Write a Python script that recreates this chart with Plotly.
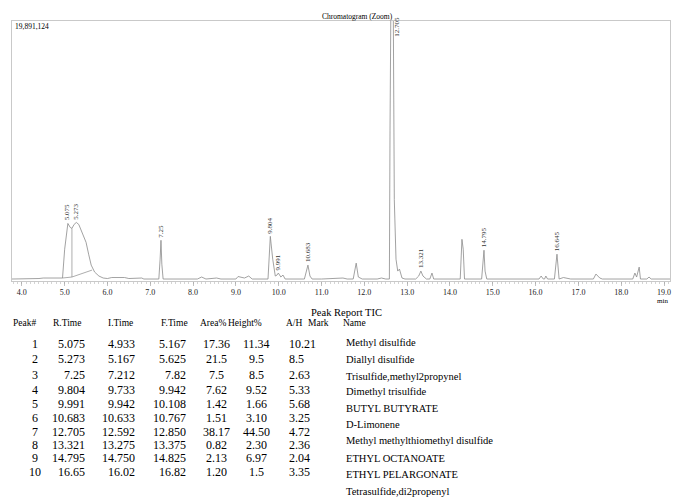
import plotly.graph_objects as go

# ---------------- data ----------------
MAX_COUNTS = 19891124
UNIT = MAX_COUNTS / 258.0   # counts per pixel of peak height

time_min = [3.77, 4.3, 4.4, 4.5, 4.9, 4.95, 5.0, 5.075, 5.13, 5.17, 5.22, 5.273, 5.33, 5.4, 5.5,
            5.56, 5.62, 5.7, 5.8, 5.9, 6.0, 6.1, 6.4, 6.5, 6.8, 6.85, 7.2, 7.23, 7.25, 7.27,
            7.3, 8.1, 8.2, 8.3, 8.55, 8.65, 9.0, 9.05, 9.15, 9.2, 9.3, 9.38, 9.75, 9.804,
            9.86, 9.92, 9.96, 9.991, 10.05, 10.1, 10.15, 10.6, 10.683, 10.73, 10.78, 11.0,
            11.5, 11.6, 11.74, 11.81, 11.86, 11.95, 12.3, 12.4, 12.5, 12.585, 12.6, 12.64,
            12.66, 12.7, 12.74, 12.78, 12.82, 12.85, 12.88, 12.95, 13.2, 13.27, 13.321, 13.37,
            13.42, 13.45, 13.53, 13.58, 13.62, 14.24, 14.28, 14.31, 14.34, 14.74, 14.795, 14.82,
            14.86, 16.08, 16.13, 16.18, 16.21, 16.24, 16.28, 16.44, 16.5, 16.55, 16.65, 16.75,
            16.82, 17.35, 17.41, 17.5, 17.56, 18.27, 18.32, 18.36, 18.42, 18.45, 18.6, 18.65,
            18.7, 19.14]
height_px = [0, 0, 0.5, 1, 1.5, 1, 30, 56, 52, 51, 55, 57, 55, 48, 37,
             25, 14, 7, 3, 1, 0.5, 1.5, 1.5, 0.5, 1, 0, 0, 20, 39, 15,
             0, 0, 2, 0, 1, 0, 0, 2.5, 1, 1, 3, 0, 0, 43,
             20, 3, 4, 6, 2, 4, 0, 0, 14, 3, 0, 0,
             1, 0, 0, 16, 2, 0, 0, 1, 0, 0, 150, 400,
             400, 80, 20, 8, 10, 6, 1, 0, 0, 3, 8, 3,
             1, 0, 0, 6, 0, 0, 40, 30, 0, 0, 29, 8,
             0, 0, 3, 0, 0, 3, 0, 0, 25, 0, 1.5, 1,
             0, 0, 5, 1, 0, 0, 6, 2, 12, 0, 0, 2,
             0, 0]
intensity = [h * UNIT for h in height_px]

# integration baseline segments (time, pixel height)
base_t = [4.95, 5.17, None, 5.17, 5.64, None, 5.17, 5.17]
base_h = [1, 2, None, 2, 9, None, 51, 2]

# peak labels drawn on the chromatogram
label_text = ["5.075", "5.273", "7.25", "9.804", "9.991", "10.683", "12.705", "13.321", "14.795", "16.645"]
label_t = [5.075, 5.273, 7.25, 9.804, 9.991, 10.683, 12.76, 13.321, 14.795, 16.5]
label_h = [56, 57, 39, 43, 6, 14, 241, 8, 29, 25]

# peak report table
peak_no = ["1", "2", "3", "4", "5", "6", "7", "8", "9", "10"]
r_time = ["5.075", "5.273", "7.25", "9.804", "9.991", "10.683", "12.705", "13.321", "14.795", "16.65"]
i_time = ["4.933", "5.167", "7.212", "9.733", "9.942", "10.633", "12.592", "13.275", "14.750", "16.02"]
f_time = ["5.167", "5.625", "7.82", "9.942", "10.108", "10.767", "12.850", "13.375", "14.825", "16.82"]
area_pct = ["17.36", "21.5", "7.5", "7.62", "1.42", "1.51", "38.17", "0.82", "2.13", "1.20"]
height_pct = ["11.34", "9.5", "8.5", "9.52", "1.66", "3.10", "44.50", "2.30", "6.97", "1.5"]
a_h = ["10.21", "8.5", "2.63", "5.33", "5.68", "3.25", "4.72", "2.36", "2.04", "3.35"]
names = ["Methyl disulfide", "Diallyl disulfide", "Trisulfide,methyl2propynel", "Dimethyl trisulfide",
         "BUTYL BUTYRATE", "D-Limonene", "Methyl methylthiomethyl disulfide", "ETHYL OCTANOATE",
         "ETHYL PELARGONATE", "Tetrasulfide,di2propenyl"]
headers = ["Peak#", "R.Time", "I.Time", "F.Time", "Area%", "Height%", "A/H", "Mark", "Name"]

# ---------------- layout geometry ----------------
W, H = 673, 498
L, R, T, B = 12, 670, 21, 281  # plot area in window pixels
SERIF = "Liberation Serif, Times New Roman, serif"
INK = "#000"


def px(x):
    return (x - L) / (R - L)


def py(y):
    return (B - y) / (B - T)


def note(x, y, s, size, xanchor="center", yanchor="middle", color=INK):
    return dict(x=px(x), y=py(y), xref="paper", yref="paper", text=s, showarrow=False,
                xanchor=xanchor, yanchor=yanchor, font=dict(family=SERIF, size=size, color=color))


fig = go.Figure()
fig.add_trace(go.Scatter(x=time_min, y=intensity, mode="lines",
                         line=dict(color="#8a8a8a", width=0.8), hoverinfo="skip", showlegend=False))
fig.add_trace(go.Scatter(x=base_t, y=[None if h is None else h * UNIT for h in base_h], mode="lines",
                         line=dict(color="#8a8a8a", width=0.7), hoverinfo="skip", showlegend=False,
                         connectgaps=False))

ann = []
for t, h, s in zip(label_t, label_h, label_text):
    ann.append(dict(x=t, y=h * UNIT, xref="x", yref="y", text=s, textangle=-90, showarrow=False,
                    xanchor="center", yanchor="bottom", yshift=1,
                    font=dict(family=SERIF, size=7, color="#333")))

ann.append(note(357, 16, "Chromatogram (Zoom)", 7.5))
ann.append(note(13, 26, "19,891,124", 7.5, xanchor="left"))
ann.append(note(662, 301, "min", 7))
ann.append(note(346, 312, "Peak Report TIC", 10.5))

head_x = [24, 67, 120, 174, 213, 245, 294, 318, 354]
for hx, s in zip(head_x, headers):
    ann.append(note(hx, 323, s, 9.5))

row_y = [344, 359, 375, 390, 404, 418, 432, 445, 458, 472]
name_y = [342, 359, 376, 391, 408, 424, 440, 458, 474, 491]
cols = [(peak_no, 35, "center"), (r_time, 87, "right"), (i_time, 137, "right"),
        (f_time, 188, "right"), (area_pct, 216, "center"), (height_pct, 256, "center"), (a_h, 287, "left")]
for vals, cx, anchor in cols:
    for i, v in enumerate(vals):
        ann.append(note(cx, row_y[i], v, 12, xanchor=anchor))
for i, v in enumerate(names):
    ann.append(note(344, name_y[i], v, 10.5, xanchor="left"))

fig.update_layout(
    width=W, height=H, paper_bgcolor="white", plot_bgcolor="white",
    margin=dict(l=L, r=W - R, t=T, b=H - B, pad=0),
    annotations=ann, showlegend=False,
    xaxis=dict(range=[3.77, 19.14], tickvals=[4, 5, 6, 7, 8, 9, 10, 11, 12, 13, 14, 15, 16, 17, 18, 19],
               ticktext=["4.0", "5.0", "6.0", "7.0", "8.0", "9.0", "10.0", "11.0", "12.0", "13.0", "14.0",
                         "15.0", "16.0", "17.0", "18.0", "19.0"],
               ticks="outside", ticklen=4, tickcolor="#999", tickwidth=0.6,
               minor=dict(dtick=0.1, ticks="outside", ticklen=2, tickcolor="#aaa", tickwidth=0.5),
               showgrid=False, zeroline=False, showline=True, linecolor="#bbb", linewidth=0.8,
               mirror=True, tickfont=dict(family=SERIF, size=8, color="#222")),
    yaxis=dict(range=[-2 * UNIT, 260 * UNIT], showticklabels=False, ticks="", showgrid=False,
               zeroline=False, showline=True, linecolor="#bbb", linewidth=0.8, mirror=True),
)

fig.write_html("out.html", config={"displayModeBar": False, "staticPlot": True},
               post_script="document.body.style.margin='0';document.body.style.overflow='hidden';")
